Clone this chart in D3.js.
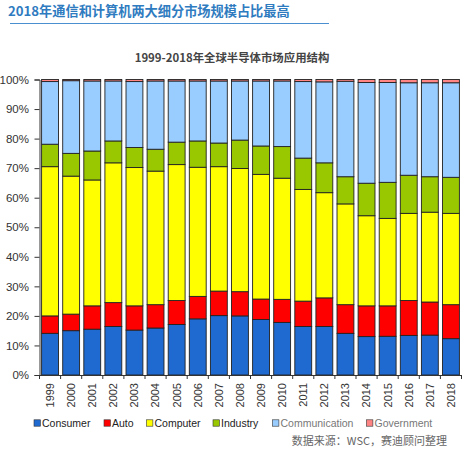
<!DOCTYPE html>
<html><head><meta charset="utf-8">
<script src="https://cdn.jsdelivr.net/npm/d3@7"></script>
<style>body{margin:0;background:#fff}svg{display:block}</style>
</head><body>
<svg id="c" width="470" height="450"></svg>
<script>
const years = ["1999","2000","2001","2002","2003","2004","2005","2006","2007","2008","2009","2010","2011","2012","2013","2014","2015","2016","2017","2018"];
const seriesNames = ["Consumer","Auto","Computer","Industry","Communication","Government"];
const consumer      = [14.1,15.0,15.5,16.4,15.2,15.9,17.1,19.0,20.1,20.0,18.8,17.8,16.4,16.4,14.1,13.0,13.1,13.4,13.5,12.3];
const auto          = [5.9, 5.6, 7.9, 8.1, 8.2, 7.9, 8.1, 7.6, 8.3, 8.2, 6.9, 7.8, 8.6, 9.7, 9.7, 10.4,10.3,11.8,11.2,11.5];
const computer      = [50.5,46.7,42.6,47.3,46.8,45.2,46.0,43.7,42.1,41.7,42.2,41.0,37.8,35.6,34.1,30.5,29.6,29.5,30.4,30.9];
const industry      = [7.6, 7.7, 9.8, 7.4, 6.8, 7.4, 7.6, 8.9, 8.0, 9.6, 9.6, 10.7,10.6,10.1,9.2, 11.0,12.2,12.9,12.0,12.2];
const communication = [21.2,24.6,23.7,20.3,22.3,23.1,20.7,20.3,21.0,20.0,22.0,22.2,25.9,27.4,32.3,34.1,33.8,31.3,31.8,32.0];
const government    = [0.7, 0.4, 0.5, 0.5, 0.7, 0.5, 0.5, 0.5, 0.5, 0.5, 0.5, 0.5, 0.7, 0.8, 0.6, 1.0, 1.0, 1.1, 1.1, 1.1];
const yTicks = [0,10,20,30,40,50,60,70,80,90,100];
const colors = ["#1f6ad0","#ff0000","#ffff00","#99c800","#99ccff","#ff8585"];
const legendText = ["#222","#222","#222","#222","#777","#777"];

const svg = d3.select("#c");
const font = "'Liberation Sans', Arial, sans-serif";
const cjk = "'Noto Sans CJK SC', sans-serif";

// title
svg.append("text").attr("x",8).attr("y",16).attr("font-family",cjk).attr("font-weight","bold")
  .attr("font-size",13.2).attr("fill","#2f7bbf").text("2018年通信和计算机两大细分市场规模占比最高");
svg.append("line").attr("x1",10).attr("x2",329).attr("y1",23.5).attr("y2",23.5)
  .attr("stroke","#4a8fd0").attr("stroke-width",1.2);
svg.append("text").attr("x",232).attr("y",61.5).attr("text-anchor","middle").attr("font-family",cjk)
  .attr("font-weight","bold").attr("font-size",11.4).attr("fill","#444").text("1999-2018年全球半导体市场应用结构");

const data = years.map((y,i)=>({year:y,Consumer:consumer[i],Auto:auto[i],Computer:computer[i],Industry:industry[i],Communication:communication[i],Government:government[i]}));
const stack = d3.stack().keys(seriesNames).offset(d3.stackOffsetExpand)(data);

const x = d3.scaleBand().domain(years).range([39.5,461.5]).paddingInner(0.2).paddingOuter(0.1);
const y = d3.scaleLinear().domain([0,1]).range([375,79.5]);

const g = svg.append("g");
stack.forEach((s,k)=>{
  g.selectAll(null).data(s).enter().append("rect")
    .attr("x",d=>x(d.data.year)).attr("width",x.bandwidth())
    .attr("y",d=>y(d[1])).attr("height",d=>y(d[0])-y(d[1]))
    .attr("fill",colors[k]).attr("stroke","#222").attr("stroke-width",0.9);
});

// y axis
const ya = svg.append("g").attr("transform","translate(39.5,0)")
  .call(d3.axisLeft(y).tickValues(yTicks.map(v=>v/100)).tickFormat((d,i)=>yTicks[i]+"%").tickSize(5).tickPadding(5.5));
ya.select(".domain").attr("stroke","#333");
ya.selectAll(".tick line").attr("stroke","#333");
ya.selectAll("text").attr("font-family",font).attr("font-size",11.5).attr("fill","#333");

// x axis
const xa = svg.append("g").attr("transform","translate(0,375)")
  .call(d3.axisBottom(x).tickSize(0).tickPadding(0));
xa.select(".domain").attr("stroke","#333");
xa.selectAll("text").attr("font-family",font).attr("font-size",11).attr("fill","#333")
  .attr("text-anchor","end").attr("dy","0.35em").attr("transform","translate(0,8) rotate(-90)");
// boundary ticks
const bounds = years.slice(1).map(yv=>x(yv)-x.step()*x.paddingInner()/2);
bounds.unshift(39.5); bounds.push(461.5);
xa.selectAll(".bt").data(bounds).enter().append("line").attr("class","bt")
  .attr("x1",d=>d).attr("x2",d=>d).attr("y1",0).attr("y2",4).attr("stroke","#333");

// legend
const legX = [34,104,146.5,213,272.5,366.5];
const leg = svg.append("g").attr("transform","translate(0,423)");
seriesNames.forEach((n,i)=>{
  leg.append("rect").attr("x",legX[i]).attr("y",-3.2).attr("width",6.4).attr("height",6.4)
    .attr("fill",colors[i]).attr("stroke","#333").attr("stroke-width",0.6);
  leg.append("text").attr("x",legX[i]+8).attr("y",0).attr("dy","0.35em")
    .attr("font-family",font).attr("font-size",10.5).attr("fill",legendText[i]).text(n);
});

svg.append("text").attr("x",447).attr("y",445).attr("text-anchor","end").attr("font-family",cjk)
  .attr("font-size",11).attr("fill","#666").text("数据来源：WSC，赛迪顾问整理");
</script>
</body></html>
